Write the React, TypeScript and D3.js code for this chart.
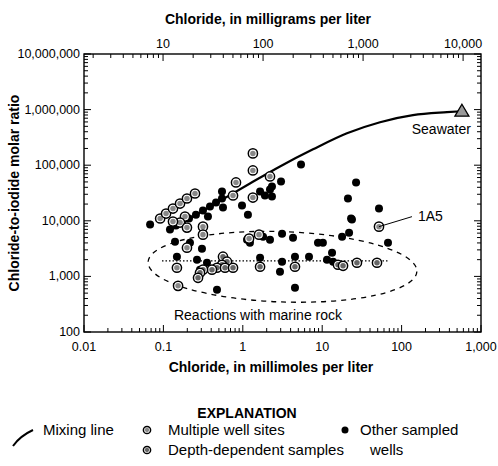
import React from 'react';
import * as d3 from 'd3';

const W = 498, H = 466;
const FRAME = { left: 84, right: 481, top: 54, bottom: 332 };
const FONT = "'Liberation Sans', Arial, sans-serif";

// Axis ticks / labels
const xTickValues = [0.01, 0.1, 1, 10, 100, 1000];
const xTickLabels = ['0.01', '0.1', '1', '10', '100', '1,000'];
const yTickValues = [100, 1e3, 1e4, 1e5, 1e6, 1e7];
const yTickLabels = ['100', '1,000', '10,000', '100,000', '1,000,000', '10,000,000'];
const topTickValues = [10, 100, 1000, 10000];
const topTickLabels = ['10', '100', '1,000', '10,000'];
const topDomain = [1.62, 15100];

// Mixing line (chloride mmol/L, Cl/I molar ratio)
const mixingX = [0.114, 0.334, 1.23, 2.94, 7.66, 20.5, 53.5, 139, 373, 575];
const mixingY = [6380, 15900, 46900, 95100, 193000, 375000, 593000, 793000, 898000, 935000];

// Other sampled wells
const otherX = [0.068, 0.121, 0.144, 0.171, 0.21, 0.257, 0.315, 0.386, 0.46, 0.547, 0.547, 0.563, 0.977, 1.16, 1.65, 1.9, 2.2, 2.33, 0.364, 3.03, 2.33, 0.306, 0.14, 0.216, 0.306, 0.148, 0.265, 0.354, 0.289, 0.473, 1.13, 1.23, 1.8, 2.2, 3.12, 1.65, 3.12, 2.94, 4.29, 8.85, 10.2, 17.8, 21.8, 23.7, 67.4, 4.54, 6.82, 13.3, 11.5, 13.7, 4.54, 5.41, 26.7, 21.1, 51.9, 23.1];
const otherY = [8540, 6940, 8190, 9290, 11000, 12900, 15300, 18000, 21300, 25200, 33700, 17300, 18800, 12900, 33700, 28500, 36600, 27300, 11900, 51000, 41500, 7850, 4210, 4040, 3150, 2260, 2000, 1760, 1320, 573, 4580, 4040, 5190, 4580, 5870, 2170, 1840, 1210, 4980, 4040, 4040, 5190, 6120, 10500, 4040, 2260, 2260, 2670, 2000, 1840, 622, 103000, 49000, 25200, 16600, 11000];

// Multiple well sites
const multipleX = [0.091, 0.108, 0.132, 0.162, 0.198, 0.25, 1.34, 1.34, 0.821, 2.2, 0.753, 1.34, 0.187, 0.162, 0.315, 0.132, 0.198, 0.315, 0.198, 0.148, 0.153, 1.6, 1.2, 51.9];
const multipleY = [11000, 13500, 16600, 20400, 25200, 31000, 163000, 80500, 49000, 62800, 28500, 26200, 11900, 9290, 7850, 9680, 7540, 5640, 3280, 1430, 676, 5640, 4780, 7850];

// Depth-dependent samples
const depthX = [0.563, 0.632, 0.547, 0.473, 0.409, 0.315, 0.289, 0.273, 0.597, 0.753, 1.65, 4.54, 15.8, 18.3, 27.4, 49.0];
const depthY = [2260, 1840, 1620, 1430, 1320, 1320, 1160, 944, 1430, 1430, 1490, 1490, 1620, 1550, 1760, 1760];

const seawater = { x: 575, y: 935000, label: 'Seawater' };
const site1A5 = { x: 51.9, y: 7850, label: '1A5' };
const dottedX = [0.096, 67];
const dottedY = 1900;
const ellipseX = [0.064, 156];
const ellipseY = [347, 6380];

export default function App() {
  const x = d3.scaleLog().domain([0.01, 1000]).range([FRAME.left, FRAME.right]);
  const y = d3.scaleLog().domain([100, 1e7]).range([FRAME.bottom, FRAME.top]);
  const xTop = d3.scaleLog().domain(topDomain).range([FRAME.left, FRAME.right]);

  const isMajor = (v: number) => Math.abs(Math.log10(v) - Math.round(Math.log10(v))) < 1e-6;

  const line = d3.line<[number, number]>()
    .x(d => x(d[0]))
    .y(d => y(d[1]))
    .curve(d3.curveMonotoneX);
  const mixingPath = line(mixingX.map((v, i) => [v, mixingY[i]]) as [number, number][]) || '';

  const bottomTicks = x.ticks();
  const leftTicks = y.ticks();
  const topTicks = xTop.ticks().filter(v => xTop(v) >= FRAME.left && xTop(v) <= FRAME.right);

  const ex0 = x(ellipseX[0]), ex1 = x(ellipseX[1]);
  const ey0 = y(ellipseY[1]), ey1 = y(ellipseY[0]);
  const ecx = (ex0 + ex1) / 2, ecy = (ey0 + ey1) / 2;
  const erx = (ex1 - ex0) / 2, ery = (ey1 - ey0) / 2;

  const sx = x(seawater.x), sy = y(seawater.y);
  const ax = x(site1A5.x), ay = y(site1A5.y);

  const grayMarker = (cx: number, cy: number, key: string, dark: boolean, r = 4.6) => (
    <g key={key}>
      <circle cx={cx} cy={cy} r={r} fill="#fff" stroke="#000" strokeWidth={1.5} />
      <circle cx={cx} cy={cy} r={r * 0.6} fill={dark ? '#666' : '#888'} />
    </g>
  );

  return (
    <svg width={W} height={H} style={{ position: 'absolute', left: 0, top: 0, background: '#fff' }} fontFamily={FONT}>
      <rect x={0} y={0} width={W} height={H} fill="#fff" />
      {/* Top title */}
      <text x={268} y={24} textAnchor="middle" fontWeight="bold" fontSize={14}>Chloride, in milligrams per liter</text>
      {/* Frame */}
      <rect x={FRAME.left} y={FRAME.top} width={FRAME.right - FRAME.left} height={FRAME.bottom - FRAME.top} fill="none" stroke="#000" strokeWidth={1.4} />

      {/* Bottom ticks (inward) */}
      {bottomTicks.map((v, i) => (
        <line key={'bt' + i} x1={x(v)} x2={x(v)} y1={FRAME.bottom} y2={FRAME.bottom - (isMajor(v) ? 7 : 4)} stroke="#000" strokeWidth={1} />
      ))}
      {xTickValues.map((v, i) => (
        <text key={'bl' + i} x={x(v)} y={351} textAnchor="middle" fontSize={12.5}>{xTickLabels[i]}</text>
      ))}
      {/* Top ticks (mg/L) */}
      {topTicks.map((v, i) => (
        <line key={'tt' + i} x1={xTop(v)} x2={xTop(v)} y1={FRAME.top} y2={FRAME.top + (isMajor(v) ? 7 : 4)} stroke="#000" strokeWidth={1} />
      ))}
      {topTickValues.map((v, i) => (
        <text key={'tl' + i} x={xTop(v)} y={48} textAnchor="middle" fontSize={12.5}>{topTickLabels[i]}</text>
      ))}
      {/* Left and right ticks */}
      {leftTicks.map((v, i) => (
        <g key={'lt' + i}>
          <line x1={FRAME.left} x2={FRAME.left + (isMajor(v) ? 7 : 4)} y1={y(v)} y2={y(v)} stroke="#000" strokeWidth={1} />
          <line x1={FRAME.right} x2={FRAME.right - (isMajor(v) ? 7 : 4)} y1={y(v)} y2={y(v)} stroke="#000" strokeWidth={1} />
        </g>
      ))}
      {yTickValues.map((v, i) => (
        <text key={'ll' + i} x={80} y={y(v) + 4} textAnchor="end" fontSize={12.5}>{yTickLabels[i]}</text>
      ))}
      {/* Y title */}
      <text transform={`translate(19, ${(FRAME.top + FRAME.bottom) / 2}) rotate(-90)`} textAnchor="middle" fontWeight="bold" fontSize={14}>Chloride-to-iodide molar ratio</text>
      {/* Bottom title */}
      <text x={271} y={372} textAnchor="middle" fontWeight="bold" fontSize={14}>Chloride, in millimoles per liter</text>

      {/* Ellipse */}
      <ellipse cx={ecx} cy={ecy} rx={erx} ry={ery} fill="none" stroke="#000" strokeWidth={1.3} strokeDasharray="5,5" transform={`rotate(2, ${ecx}, ${ecy})`} />
      {/* Dotted line */}
      <line x1={x(dottedX[0])} x2={x(dottedX[1])} y1={y(dottedY)} y2={y(dottedY)} stroke="#000" strokeWidth={1.2} strokeDasharray="1.5,2" />
      <text x={258} y={320} textAnchor="middle" fontSize={14}>Reactions with marine rock</text>

      {/* Mixing line */}
      <path d={mixingPath} fill="none" stroke="#000" strokeWidth={2.2} />

      {/* Other wells */}
      {otherX.map((v, i) => (
        <circle key={'o' + i} cx={x(v)} cy={y(otherY[i])} r={4} fill="#000" />
      ))}
      {multipleX.map((v, i) => grayMarker(x(v), y(multipleY[i]), 'm' + i, false))}
      {depthX.map((v, i) => grayMarker(x(v), y(depthY[i]), 'd' + i, true))}

      {/* Seawater */}
      <path d={`M${sx},${sy - 7} L${sx + 7},${sy + 5} L${sx - 7},${sy + 5} Z`} fill="#999" stroke="#000" strokeWidth={1.3} />
      <text x={sx + 9} y={sy + 23} textAnchor="end" fontSize={14}>{seawater.label}</text>

      {/* 1A5 label */}
      <line x1={ax} y1={ay} x2={ax + 33} y2={ay - 10} stroke="#000" strokeWidth={1} />
      <text x={ax + 39} y={ay - 6} fontSize={14}>{site1A5.label}</text>

      {/* Legend */}
      <text x={247} y={418} textAnchor="middle" fontWeight="bold" fontSize={14}>EXPLANATION</text>
      <path d="M13,446 Q20,436 33,430" fill="none" stroke="#000" strokeWidth={2} />
      <text x={43} y={435} fontSize={15}>Mixing line</text>
      {grayMarker(147, 430, 'lg1', false, 3.6)}
      <text x={168} y={435} fontSize={15}>Multiple well sites</text>
      {grayMarker(147, 450, 'lg2', true, 3.6)}
      <text x={168} y={455} fontSize={15}>Depth-dependent samples</text>
      <circle cx={345} cy={430} r={3.5} fill="#000" />
      <text x={360} y={435} fontSize={15}>Other sampled</text>
      <text x={370} y={455} fontSize={15}>wells</text>
    </svg>
  );
}
